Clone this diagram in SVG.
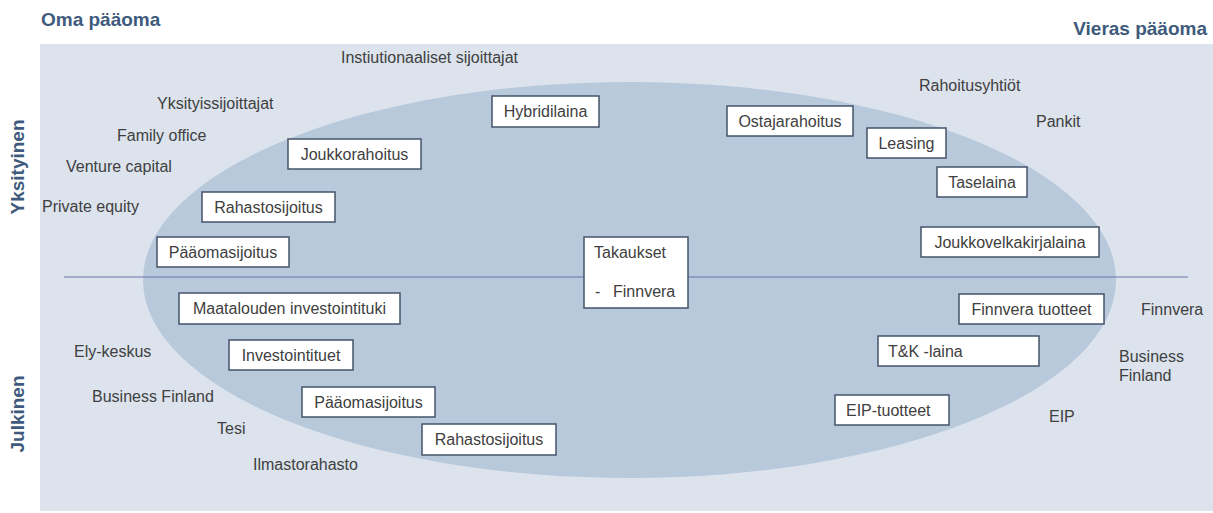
<svg xmlns="http://www.w3.org/2000/svg" width="1213" height="513" viewBox="0 0 1213 513">
<style>
.hdr{font-family:"Liberation Sans",Arial,sans-serif;font-size:19px;font-weight:bold;fill:#3e5a7c}
.lbl{font-family:"Liberation Sans",Arial,sans-serif;font-size:16px;fill:#404040}
.box rect{fill:#ffffff;stroke:#44536a;stroke-width:1.5}
.box text{font-family:"Liberation Sans",Arial,sans-serif;font-size:16px;fill:#404040;text-anchor:middle}
</style>
<rect x="0" y="0" width="1213" height="513" fill="#ffffff"/>
<rect x="40" y="44" width="1173" height="467" fill="#dce3ed"/>
<ellipse cx="629.5" cy="280" rx="486.5" ry="198" fill="#b8c9dc"/>
<g id="connectors">
<line x1="64" y1="277" x2="1188" y2="277" stroke="#6677a8" stroke-width="1"/>
</g>
<text class="hdr" x="41" y="26">Oma pääoma</text>
<text class="hdr" x="1207" y="35" text-anchor="end">Vieras pääoma</text>
<text class="hdr" transform="rotate(-90 24 167)" x="24" y="167" text-anchor="middle">Yksityinen</text>
<text class="hdr" transform="rotate(-90 24 414)" x="24" y="414" text-anchor="middle">Julkinen</text>
<g id="labels">
<text class="lbl" x="341" y="63">Instiutionaaliset sijoittajat</text>
<text class="lbl" x="157" y="109">Yksityissijoittajat</text>
<text class="lbl" x="117" y="141">Family office</text>
<text class="lbl" x="66" y="172">Venture capital</text>
<text class="lbl" x="42" y="212">Private equity</text>
<text class="lbl" x="919" y="91">Rahoitusyhtiöt</text>
<text class="lbl" x="1036" y="127">Pankit</text>
<text class="lbl" x="1141" y="315">Finnvera</text>
<text class="lbl" x="1119" y="362">Business</text>
<text class="lbl" x="1119" y="381">Finland</text>
<text class="lbl" x="1049" y="422">EIP</text>
<text class="lbl" x="74" y="357">Ely-keskus</text>
<text class="lbl" x="92" y="402">Business Finland</text>
<text class="lbl" x="217" y="434">Tesi</text>
<text class="lbl" x="253" y="470">Ilmastorahasto</text>
</g>
<g id="n-hybridilaina" class="box"><rect x="492" y="96" width="107" height="31"/><text x="545.5" y="117">Hybridilaina</text></g>
<g id="n-ostajarahoitus" class="box"><rect x="727" y="106" width="126" height="30"/><text x="790" y="127">Ostajarahoitus</text></g>
<g id="n-leasing" class="box"><rect x="867" y="128" width="79" height="30"/><text x="906.5" y="149">Leasing</text></g>
<g id="n-taselaina" class="box"><rect x="937" y="167" width="90" height="30"/><text x="982" y="188">Taselaina</text></g>
<g id="n-joukkovelkakirjalaina" class="box"><rect x="921" y="227" width="178" height="30"/><text x="1010" y="248">Joukkovelkakirjalaina</text></g>
<g id="n-joukkorahoitus" class="box"><rect x="288" y="139" width="133" height="30"/><text x="354.5" y="160">Joukkorahoitus</text></g>
<g id="n-rahastosijoitus-1" class="box"><rect x="202" y="192" width="133" height="30"/><text x="268.5" y="213">Rahastosijoitus</text></g>
<g id="n-paaomasijoitus-1" class="box"><rect x="157" y="237" width="132" height="30"/><text x="223" y="258">Pääomasijoitus</text></g>
<g id="n-takaukset" class="box"><rect x="584" y="237" width="104" height="71"/><text x="594" y="258" style="text-anchor:start">Takaukset</text><text x="595" y="297" style="text-anchor:start">-</text><text x="613" y="297" style="text-anchor:start">Finnvera</text></g>
<g id="n-maatalouden" class="box"><rect x="179" y="293" width="221" height="31"/><text x="289.5" y="314">Maatalouden investointituki</text></g>
<g id="n-investointituet" class="box"><rect x="229" y="340" width="124" height="30"/><text x="291" y="361">Investointituet</text></g>
<g id="n-paaomasijoitus-2" class="box"><rect x="302" y="387" width="133" height="30"/><text x="368.5" y="408">Pääomasijoitus</text></g>
<g id="n-rahastosijoitus-2" class="box"><rect x="422" y="424" width="134" height="31"/><text x="489" y="445">Rahastosijoitus</text></g>
<g id="n-finnvera-tuotteet" class="box"><rect x="959" y="294" width="145" height="30"/><text x="1031.5" y="315">Finnvera tuotteet</text></g>
<g id="n-tk-laina" class="box"><rect x="878" y="336" width="161" height="30"/><text x="888" y="357" style="text-anchor:start">T&amp;K -laina</text></g>
<g id="n-eip-tuotteet" class="box"><rect x="835" y="395" width="114" height="30"/><text x="846" y="416" style="text-anchor:start">EIP-tuotteet</text></g>
</svg>
